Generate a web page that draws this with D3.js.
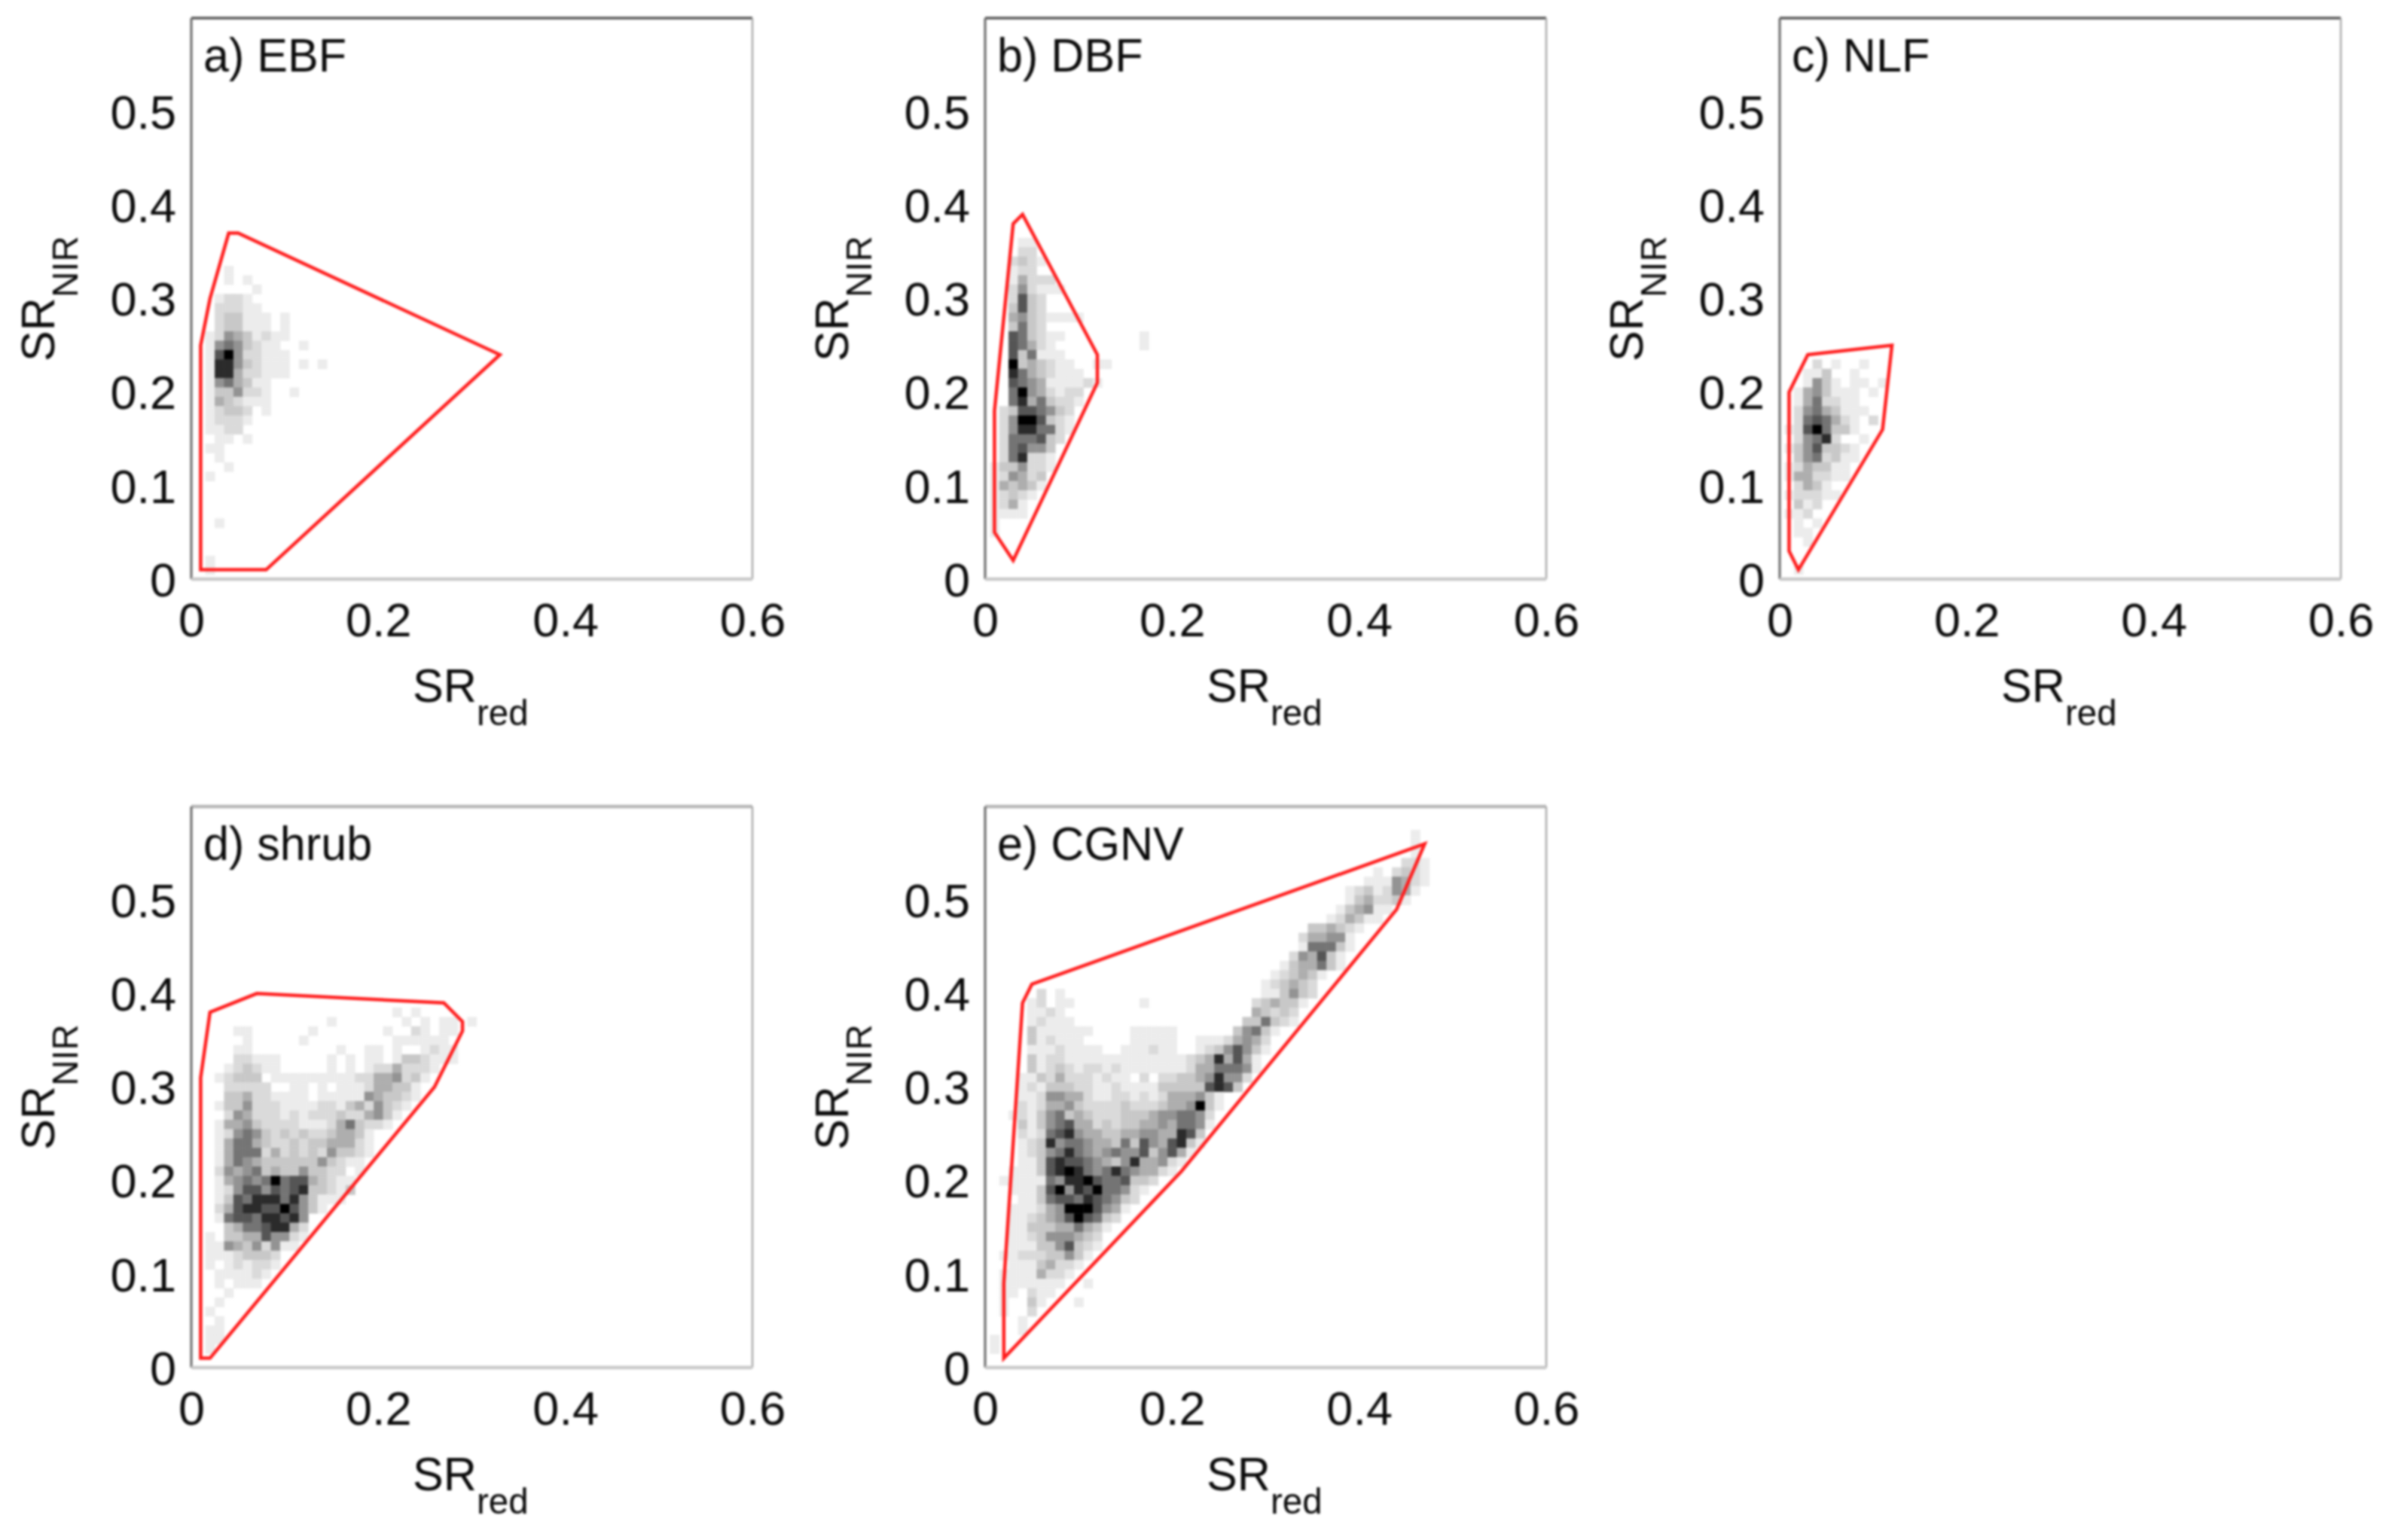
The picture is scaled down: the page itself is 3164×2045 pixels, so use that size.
<!DOCTYPE html>
<html><head><meta charset="utf-8">
<script src="https://cdn.jsdelivr.net/npm/d3@7/dist/d3.min.js"></script>
<style>html,body{margin:0;padding:0;background:#fff}svg{display:block;filter:blur(1.5px)}text{font-family:"Liberation Sans",Arial,sans-serif;fill:#0a0a0a}</style>
</head><body><script>
const xTicks=[0,0.2,0.4,0.6];
const yTicks=[0,0.1,0.2,0.3,0.4,0.5];
const panelLabels=["a) EBF","b) DBF","c) NLF","d) shrub","e) CGNV"];
// density levels 0-9: [SR_NIR in hundredths, first SR_red in hundredths, levels]
const ebfCells=[[33,4,"1"],[32,4,"101"],[31,7,"1"],[30,3,"1221"],[29,3,"22211"],[28,3,"23311101"],[27,3,"23311101"],[26,2,"125431211"],[25,2,"15653211001"],[24,2,"179522111"],[23,2,"1885321110101"],[22,2,"188422111"],[21,2,"1564311"],[20,2,"1335221001"],[19,2,"1432111"],[18,2,"1233201"],[17,2,"12221"],[16,2,"1122"],[15,3,"1101"],[14,2,"11"],[13,3,"1"],[12,4,"1"],[11,2,"1"],[6,3,"1"],[2,2,"1"],[1,2,"1"]];
const dbfCells=[[36,4,"11"],[35,4,"22"],[34,3,"2321"],[33,3,"122"],[32,3,"14222"],[31,3,"252111"],[30,3,"2732"],[29,3,"3732"],[28,3,"45321111"],[27,3,"3632"],[26,3,"763211"],[26,17,"1"],[25,3,"76421"],[25,17,"1"],[24,3,"736111"],[23,3,"93432110011"],[22,3,"86432111"],[21,3,"7654111121"],[20,3,"69542122"],[19,3,"68463221"],[18,2,"23776532"],[17,2,"25997321"],[16,2,"25886621"],[15,2,"2666732"],[14,2,"267553"],[13,2,"268221"],[12,1,"1335221"],[11,1,"125423"],[10,1,"143431"],[9,1,"12321"],[8,1,"1241"],[7,1,"1111"],[6,1,"1"],[5,1,"1"]];
const nlfCells=[[23,4,"201001"],[22,3,"113001"],[21,3,"153101101"],[20,2,"145311101"],[19,2,"1462211"],[18,2,"25643111"],[17,2,"267642102"],[16,1,"12796331"],[15,2,"25682001"],[14,1,"13573321"],[13,2,"3562311"],[12,1,"1243311"],[11,1,"1442211"],[10,2,"2431"],[9,1,"122211"],[8,2,"312"],[7,1,"112"],[6,2,"101"],[5,2,"11"],[4,3,"1"],[1,2,"1"]];
const shrubCells=[[38,22,"101"],[37,15,"1"],[37,23,"10101101"],[36,5,"11"],[36,13,"1"],[36,21,"10021011"],[35,6,"1"],[35,12,"1"],[35,22,"111111"],[34,5,"11"],[34,16,"1"],[34,19,"1101001211"],[33,5,"22111"],[33,15,"10101101332111"],[32,4,"123211"],[32,15,"101012242221"],[31,3,"12333011111111122445231"],[30,4,"222220011010111244331"],[29,4,"334221111011111543321"],[28,3,"133522211112213425321"],[27,4,"2542221212223224531"],[26,3,"1445322221112463221"],[25,3,"12565323232234431"],[24,3,"14664322323344421"],[23,3,"14666242323253321"],[22,3,"1465433333353211"],[21,3,"2545634335332201"],[20,3,"145656967743211"],[19,3,"125775767833213"],[18,3,"13768886853111"],[17,3,"247887797531"],[16,3,"1677688785"],[15,4,"346678842"],[14,2,"10334475521"],[13,2,"1154352511"],[12,2,"11123332"],[11,2,"10121221"],[10,3,"111121"],[9,3,"10111"],[8,4,"1"],[7,3,"1"],[6,2,"1"],[5,3,"1"],[4,2,"11"],[3,2,"11"],[2,2,"1"]];
const cgnvCells=[[57,46,"1"],[56,46,"1"],[55,46,"1"],[54,45,"221"],[53,42,"102321"],[52,41,"1115421"],[51,39,"12312541"],[50,39,"1342231"],[49,38,"134511"],[48,37,"124311"],[47,35,"334321"],[46,34,"244551"],[45,34,"166631"],[44,33,"254731"],[43,32,"1344631"],[42,31,"123431"],[41,30,"123432"],[40,6,"201"],[40,30,"113532"],[39,5,"12011"],[39,17,"1"],[39,29,"234331"],[38,5,"1121"],[38,29,"43232"],[37,5,"12111"],[37,28,"336321"],[36,5,"3111111"],[36,16,"11111"],[36,27,"35631"],[35,5,"312111"],[35,16,"11111"],[35,23,"11124542"],[34,5,"11121111"],[34,15,"1112110012357531"],[33,5,"3122111111111111123484741"],[32,5,"3123212212111111124466651"],[31,4,"1132422212110202233458552"],[30,4,"121333221121111333337873"],[29,4,"1125544211221212444531"],[28,4,"2124453222232223445931"],[27,3,"1213563432223334556652"],[26,4,"313567442323344546651"],[25,4,"21267854433445544873"],[24,4,"12385665443637547831"],[23,4,"1235686545655735741"],[22,4,"113787765435844521"],[21,3,"111378986568654421"],[20,2,"11111658897667332"],[19,3,"111379587966521"],[18,4,"1136776876532"],[17,3,"1112459997541"],[16,3,"112345797632"],[15,3,"11333446431"],[14,3,"1123555432"],[13,3,"1113357321"],[12,2,"1122233531"],[11,3,"11134221"],[10,2,"11114221"],[9,2,"1111111001"],[8,2,"110211"],[7,2,"100310001"],[6,2,"1002"],[5,4,"1"],[4,4,"1"],[3,1,"1"],[2,1,"1"]];
const ebfHull=[[0.01,0.25],[0.02,0.30],[0.04,0.37],[0.05,0.37],[0.33,0.24],[0.08,0.01],[0.01,0.01]];
const dbfHull=[[0.03,0.38],[0.04,0.39],[0.12,0.24],[0.12,0.21],[0.03,0.02],[0.01,0.05],[0.01,0.18]];
const nlfHull=[[0.03,0.24],[0.12,0.25],[0.11,0.16],[0.02,0.01],[0.01,0.03],[0.01,0.20]];
const shrubHull=[[0.02,0.38],[0.07,0.40],[0.27,0.39],[0.29,0.37],[0.29,0.36],[0.26,0.30],[0.02,0.01],[0.01,0.01],[0.01,0.31]];
const cgnvHull=[[0.05,0.41],[0.47,0.56],[0.44,0.49],[0.21,0.21],[0.02,0.01],[0.02,0.09],[0.04,0.39]];
const panelCells=[ebfCells,dbfCells,nlfCells,shrubCells,cgnvCells];
const panelHulls=[ebfHull,dbfHull,nlfHull,shrubHull,cgnvHull];

const W=3164,H=2045,size=745,lefts=[254,1308,2363],tops=[24,1071];
const fs="63px",squeeze="scale(0.97,1)";
const svg=d3.select("body").append("svg").attr("width",W).attr("height",H).attr("viewBox",`0 0 ${W} ${H}`);
const grey=d3.scaleLinear().domain([0,1,3,5,7,9]).range(["#ffffff","#ececec","#c8c8c8","#939393","#555555","#000000"]);
const x=d3.scaleLinear().domain([0,0.6]).range([0,size]);
const y=d3.scaleLinear().domain([0,0.6]).range([size,0]);
const line=d3.line().x(d=>x(d[0])).y(d=>y(d[1])).curve(d3.curveLinearClosed);

panelLabels.forEach((label,k)=>{
  const px=lefts[k%3],py=tops[k<3?0:1];
  const g=svg.append("g").attr("transform",`translate(${px},${py})`);
  const cells=panelCells[k].flatMap(([row,col,levels])=>Array.from(levels,(c,n)=>({i:col+n,j:row,v:+c}))).filter(d=>d.v>0);
  g.selectAll("rect.cell").data(cells).join("rect").attr("class","cell")
    .attr("x",d=>x((d.i-0.5)/100)).attr("y",d=>y((d.j+0.5)/100))
    .attr("width",x(0.01)+0.5).attr("height",y(0)-y(0.01)+0.5)
    .attr("fill",d=>grey(d.v));
  const frame=[["M0,0H"+size,k<3?"#555":"#b5b5b5",k<3?3.5:4.5],["M0,0V"+size,"#666",3],["M"+size+",0V"+size,"#aaa",2.5],["M0,"+size+"H"+size,"#c8c8c8",4.5]];
  g.selectAll("path.frame").data(frame).join("path").attr("class","frame").attr("d",d=>d[0]).attr("stroke",d=>d[1]).attr("stroke-width",d=>d[2]).attr("fill","none");
  g.append("path").datum(panelHulls[k]).attr("d",line).attr("fill","none").attr("stroke","#ff1c1c").attr("stroke-width",4.5).attr("stroke-linejoin","miter");
  const ax=d3.axisBottom(x).tickValues(xTicks).tickSize(0).tickPadding(31).tickFormat(d=>d===0?"0":d3.format(".1f")(d));
  const ay=d3.axisLeft(y).tickValues(yTicks).tickSize(0).tickPadding(20).tickFormat(d=>d===0?"0":d3.format(".1f")(d));
  const gx=g.append("g").attr("transform",`translate(0,${size})`).call(ax);
  const gy=g.append("g").attr("transform","translate(0,2)").call(ay);
  [gx,gy].forEach(a=>{a.select(".domain").remove();a.selectAll("text").style("font-size",fs).style("font-family",'"Liberation Sans",Arial,sans-serif');});
  g.append("text").attr("transform",`translate(16,71) ${squeeze}`).style("font-size",fs).text(label);
  const xt=g.append("text").attr("transform",`translate(294,${size+163}) ${squeeze}`).style("font-size",fs);
  xt.append("tspan").text("SR");
  xt.append("tspan").attr("dy",31).style("font-size","49px").text("red");
  const yt=g.append("text").attr("transform",`translate(-182,456) rotate(-90) ${squeeze}`).style("font-size",fs);
  yt.append("tspan").text("SR");
  yt.append("tspan").attr("dy",31).style("font-size","49px").text("NIR");
});
</script></body></html>
